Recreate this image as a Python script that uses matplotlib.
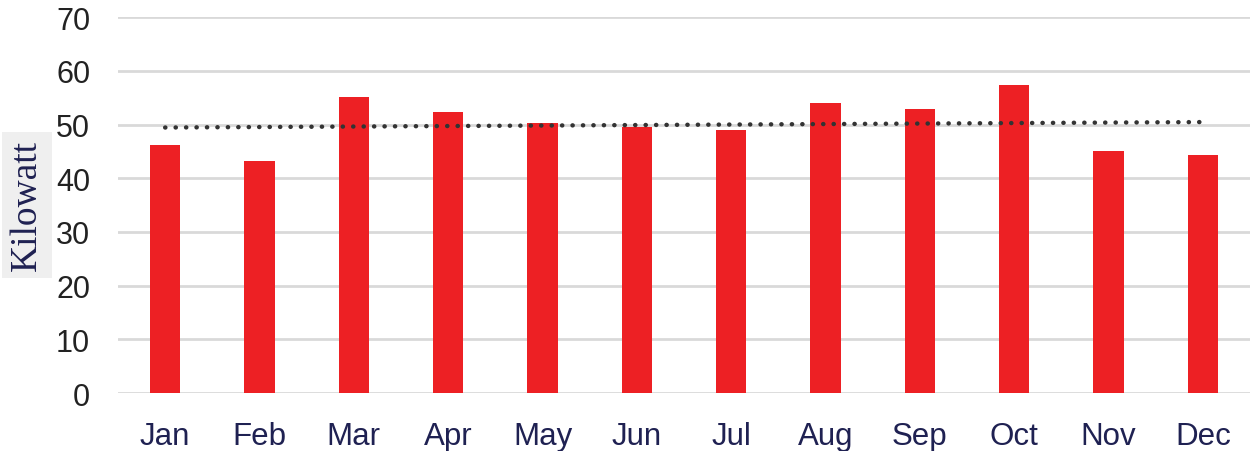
import numpy as np
import matplotlib.pyplot as plt

months = ["Jan", "Feb", "Mar", "Apr", "May", "Jun",
          "Jul", "Aug", "Sep", "Oct", "Nov", "Dec"]
kilowatt = [46.2, 43.2, 55.1, 52.3, 50.3, 49.6, 49.0, 54.0, 52.8, 57.4, 45.1, 44.4]
y_ticks = [0, 10, 20, 30, 40, 50, 60, 70]

fig = plt.figure(figsize=(12.5, 4.52), dpi=100)
ax = fig.add_axes([0.0944, 0.128, 0.9056, 0.832])

x = np.arange(len(months))
ax.bar(x, kilowatt, width=0.32, color="#ed2024", zorder=2)

# linear trendline, as the spreadsheet draws it
slope, intercept = np.polyfit(x, kilowatt, 1)
ax.plot(x, slope * x + intercept, color="#333333", lw=3.2,
        linestyle=(0, (0.05, 2.3)), dash_capstyle="round", zorder=3)

ax.set_xlim(-0.5, len(months) - 0.5)
ax.set_ylim(0, 70)
ax.set_yticks(y_ticks)
ax.yaxis.grid(True, color="#d9d9d9", lw=2, zorder=0)
ax.set_axisbelow(True)
for s in ax.spines.values():
    s.set_visible(False)

ax.set_xticks(x)
ax.set_xticklabels(months, fontsize=22.5, color="#1f2152", family="Liberation Sans")
for lab in ax.get_yticklabels():
    lab.set_fontsize(22)
    lab.set_color("#222222")
    lab.set_family("Liberation Sans")
ax.tick_params(axis="both", length=0)
ax.tick_params(axis="y", pad=20)
ax.tick_params(axis="x", pad=20)

fig.text(0.0216, 0.545, "Kilowatt", rotation=90, ha="center", va="center",
         fontsize=27, color="#1f2152", family="Liberation Serif",
         bbox=dict(boxstyle="square,pad=0.2", facecolor="#efefef", edgecolor="none"))

fig.savefig("out.png", dpi=100)
